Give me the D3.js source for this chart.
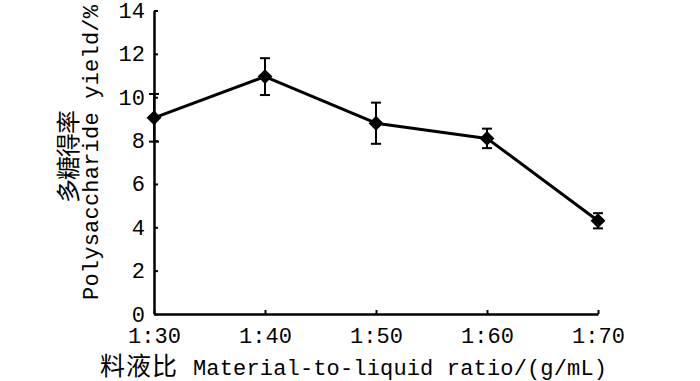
<!DOCTYPE html>
<html>
<head>
<meta charset="utf-8">
<script src="https://cdn.jsdelivr.net/npm/d3@7"></script>
<style>
    body { margin: 0; background: #fff; }
    .mono { font-family: 'Liberation Mono', 'DejaVu Sans Mono', monospace; font-size: 22px; }
    .cjk { font-family: 'Noto Sans CJK SC', sans-serif; }
</style>
</head>
<body>
<div id="chart"></div>
<script>
// 料液比 categories and measured polysaccharide yield (%)
const categories = ['1:30', '1:40', '1:50', '1:60', '1:70'];
const yields = [9.05, 10.95, 8.8, 8.1, 4.3];
const errors = [1.1, 0.85, 0.95, 0.45, 0.35];
const yTicks = [0, 2, 4, 6, 8, 10, 12, 14];

const width = 700;
const height = 381;

const svg = d3
    .select('#chart')
    .append('svg')
    .attr('width', width)
    .attr('height', height)
    .attr('viewBox', [0, 0, width, height]);

const x = d3.scalePoint().domain(categories).range([154, 598]).padding(0);
const y = d3.scaleLinear().domain([0, 14]).range([314, 10.5]);

// y axis, ticks pointing right into the plot
const yAxisG = svg
    .append('g')
    .attr('transform', `translate(${x(categories[0])},0)`)
    .call(d3.axisLeft(y).tickValues(yTicks).tickSizeInner(-4).tickSizeOuter(0).tickPadding(9));

// x axis, ticks pointing up into the plot
const xAxisG = svg
    .append('g')
    .attr('transform', `translate(0,${y(0)})`)
    .call(d3.axisBottom(x).tickSizeInner(-4).tickSizeOuter(0).tickPadding(13));

[yAxisG, xAxisG].forEach((g) => {
    g.attr('font-family', null).attr('font-size', null);
    g.select('.domain').attr('stroke', '#000').attr('stroke-width', 2.5);
    g.selectAll('.tick line').attr('stroke', '#000').attr('stroke-width', 2);
    g.selectAll('.tick text').attr('fill', '#000').attr('class', 'mono');
});

// error bars
const capW = 5;
const errG = svg.append('g').attr('stroke', '#000').attr('stroke-width', 2).attr('fill', 'none');
categories.forEach((c, i) => {
    const cx = x(c);
    const top = y(yields[i] + errors[i]);
    const bot = y(yields[i] - errors[i]);
    errG.append('line').attr('x1', cx).attr('x2', cx).attr('y1', top).attr('y2', bot);
    errG.append('line').attr('x1', cx - capW).attr('x2', cx + capW).attr('y1', top).attr('y2', top);
    errG.append('line').attr('x1', cx - capW).attr('x2', cx + capW).attr('y1', bot).attr('y2', bot);
});

// line
const line = d3
    .line()
    .x((d, i) => x(categories[i]))
    .y((d) => y(d));

svg.append('path')
    .datum(yields)
    .attr('d', line)
    .attr('fill', 'none')
    .attr('stroke', '#000')
    .attr('stroke-width', 3)
    .attr('stroke-linejoin', 'round');

// diamond markers
const diamond = d3.symbol().type(d3.symbolSquare).size(110);
svg.append('g')
    .selectAll('path')
    .data(yields)
    .join('path')
    .attr('d', diamond)
    .attr('transform', (d, i) => `translate(${x(categories[i])},${y(d)}) rotate(45)`)
    .attr('fill', '#000');

// x axis title
svg.append('text')
    .attr('class', 'cjk')
    .attr('x', 100)
    .attr('y', 375)
    .attr('font-size', 25)
    .attr('textLength', 77)
    .text('料液比');
svg.append('text')
    .attr('class', 'mono')
    .attr('x', 193)
    .attr('y', 375)
    .attr('textLength', 414)
    .attr('lengthAdjust', 'spacing')
    .text('Material-to-liquid ratio/(g/mL)');

// y axis title (two rotated lines)
svg.append('text')
    .attr('class', 'cjk')
    .attr('transform', 'translate(77,203) rotate(-90)')
    .attr('font-size', 24)
    .attr('textLength', 93)
    .text('多糖得率');
svg.append('text')
    .attr('class', 'mono')
    .attr('transform', 'translate(98,300) rotate(-90)')
    .attr('textLength', 295)
    .attr('lengthAdjust', 'spacing')
    .text('Polysaccharide yield/%');
</script>
</body>
</html>
